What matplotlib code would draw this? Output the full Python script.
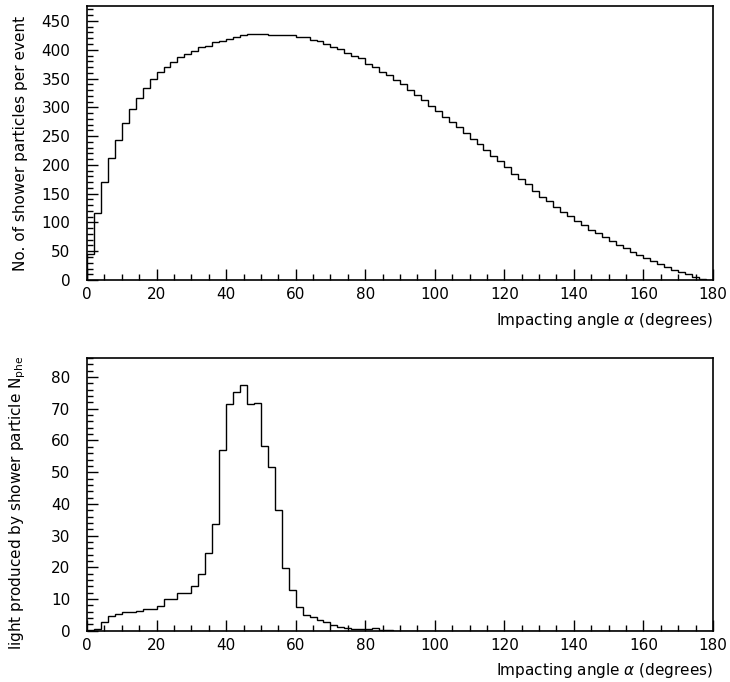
import numpy as np
import matplotlib
matplotlib.use("Agg")
import matplotlib.pyplot as plt
from matplotlib.ticker import MultipleLocator

# bin edges of the angle histograms (2 degree bins)
angle_edges = np.arange(0, 182, 2)

# shower particles per event, per 2 deg bin
particles = [46, 116, 171, 212, 244, 272, 297, 317, 334, 349,
             361, 370, 378, 388, 392, 398, 404, 407, 413, 416,
             419, 423, 425, 427, 428, 427, 426, 426, 425, 425,
             422, 422, 417, 415, 410, 405, 401, 394, 390, 385,
             376, 370, 362, 357, 347, 340, 330, 321, 313, 303,
             294, 283, 274, 265, 255, 245, 236, 226, 215, 206,
             196, 185, 175, 166, 155, 145, 137, 127, 119, 111,
             103, 95, 87, 81, 74, 67, 61, 55, 49, 43,
             38, 33, 28, 23, 18, 14, 10, 6, 2, 0.5]

# light (photoelectrons) per shower particle, per 2 deg bin
nphe = [0.2, 0.6, 2.7, 4.7, 5.4, 5.8, 5.8, 6.3, 7.0, 7.0,
        7.8, 9.9, 9.9, 12.0, 12.0, 14.1, 18.0, 24.5, 33.7, 57.1,
        71.4, 75.3, 77.4, 71.4, 71.8, 58.3, 51.7, 38.2, 19.8, 12.8,
        7.4, 5.0, 4.3, 3.4, 2.7, 1.8, 1.3, 1.0, 0.5, 0.4,
        0.4, 0.8, 0.3, 0.15, 0, 0, 0, 0, 0, 0,
        0, 0, 0, 0, 0, 0, 0, 0, 0, 0,
        0, 0, 0, 0, 0, 0, 0, 0, 0, 0,
        0, 0, 0, 0, 0, 0, 0, 0, 0, 0,
        0, 0, 0, 0, 0, 0, 0, 0, 0, 0]

plt.rcParams['font.family'] = ['DejaVu Sans']
plt.rcParams['mathtext.fontset'] = 'dejavusans'

fig = plt.figure(figsize=(7.3, 6.82), dpi=100)
ax1 = fig.add_axes([0.1192, 0.5894, 0.8575, 0.4018])
ax2 = fig.add_axes([0.1192, 0.0752, 0.8575, 0.3998])

xlabel = r'Impacting angle $\alpha$ (degrees)'


def style(ax, ymax, ymaj, ymin):
    ax.set_xlim(0, 180)
    ax.set_ylim(0, ymax)
    ax.xaxis.set_major_locator(MultipleLocator(20))
    ax.xaxis.set_minor_locator(MultipleLocator(5))
    ax.yaxis.set_major_locator(MultipleLocator(ymaj))
    ax.yaxis.set_minor_locator(MultipleLocator(ymin))
    ax.tick_params(which='both', direction='in', top=False, right=False,
                   labelsize=11, width=1)
    ax.tick_params(axis='x', which='both', pad=5)
    ax.tick_params(axis='y', which='both', pad=12)
    ax.tick_params(which='major', length=8)
    ax.tick_params(which='minor', length=4)
    for s in ax.spines.values():
        s.set_linewidth(1.2)
    ax.set_xlabel(xlabel, fontsize=11, loc='right')
    ax.xaxis.set_label_coords(1.0, -0.112)


ax1.stairs(particles, angle_edges, color='black', lw=1)
style(ax1, 476, 50, 10)
ax1.set_ylabel('No. of shower particles per event', fontsize=11)
ax1.yaxis.set_label_coords(-0.095, 0.5)

ax2.stairs(nphe, angle_edges, color='black', lw=1)
style(ax2, 86, 10, 2)
ax2.set_ylabel(r'light produced by shower particle N$_{\mathregular{phe}}$',
               fontsize=11)
ax2.yaxis.set_label_coords(-0.095, 0.47)

fig.savefig('out.png', dpi=100)
